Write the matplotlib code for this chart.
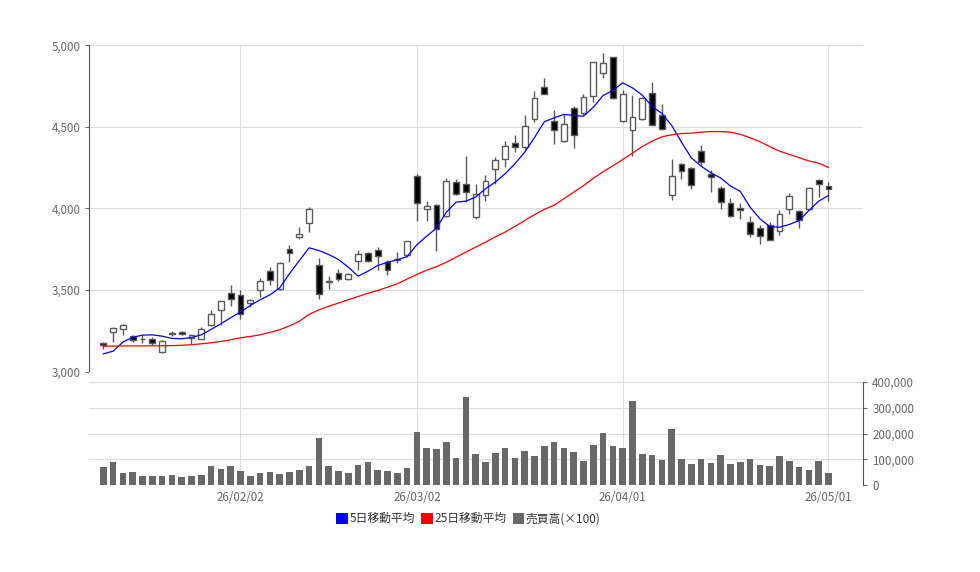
"""
plot.py

Daily candlestick chart with 5-day / 25-day moving averages and a volume
panel underneath. Values read off a reference image.
"""

import matplotlib
matplotlib.use("Agg")
import matplotlib.pyplot as plt
import matplotlib.ticker as mticker
from matplotlib.patches import Patch
import numpy as np
import pandas as pd


# ============================================================
# 1) DATA
# ============================================================

START_DATE = "2026-01-13"
END_DATE   = "2026-05-01"
HOLIDAYS   = ["2026-02-11", "2026-02-23", "2026-03-20", "2026-04-29"]

TICK_DATES  = ["2026-02-02", "2026-03-02", "2026-04-01", "2026-05-01"]
TICK_LABELS = ["26/02/02", "26/03/02", "26/04/01", "26/05/01"]

opens = [
    3175, 3241, 3262, 3217, 3198, 3201, 3117, 3235, 3240, 3207,
    3201, 3287, 3380, 3480, 3470, 3423, 3501, 3615, 3507, 3753,
    3828, 3912, 3655, 3550, 3604, 3566, 3677, 3728, 3747, 3670,
    3683, 3712, 4202, 3998, 4020, 3957, 4162, 4151, 3947, 4084,
    4244, 4305, 4401, 4376, 4550, 4744, 4534, 4417, 4615, 4585,
    4693, 4833, 4928, 4534, 4483, 4550, 4707, 4571, 4080, 4274,
    4250, 4352, 4213, 4127, 4035, 4002, 3920, 3882, 3900, 3859,
    3994, 3983, 3994, 4176, 4135,
]
highs = [
    3180, 3272, 3290, 3227, 3221, 3210, 3194, 3250, 3250, 3228,
    3272, 3379, 3435, 3528, 3497, 3444, 3572, 3640, 3670, 3777,
    3885, 4008, 3698, 3583, 3630, 3602, 3747, 3732, 3763, 3681,
    3732, 3803, 4210, 4049, 4029, 4186, 4182, 4325, 4151, 4207,
    4315, 4417, 4452, 4575, 4720, 4802, 4605, 4577, 4628, 4704,
    4900, 4953, 4930, 4728, 4699, 4685, 4775, 4638, 4305, 4280,
    4255, 4391, 4238, 4141, 4066, 4033, 3957, 3896, 3916, 3992,
    4096, 3990, 4130, 4182, 4161,
]
lows = [
    3140, 3180, 3221, 3180, 3172, 3160, 3115, 3215, 3221, 3170,
    3199, 3280, 3287, 3399, 3323, 3395, 3460, 3529, 3500, 3670,
    3810, 3855, 3446, 3507, 3558, 3563, 3624, 3670, 3620, 3589,
    3665, 3702, 3926, 3922, 3742, 3947, 4080, 4039, 3937, 4043,
    4151, 4253, 4345, 4356, 4530, 4700, 4393, 4410, 4372, 4571,
    4656, 4802, 4672, 4530, 4319, 4545, 4510, 4480, 4055, 4182,
    4121, 4258, 4100, 3998, 3945, 3937, 3828, 3783, 3805, 3840,
    3967, 3882, 3990, 4070, 4049,
]
closes = [
    3165, 3268, 3287, 3196, 3202, 3176, 3188, 3228, 3232, 3225,
    3262, 3354, 3431, 3446, 3350, 3440, 3558, 3563, 3664, 3728,
    3845, 3998, 3477, 3558, 3569, 3599, 3722, 3677, 3707, 3624,
    3692, 3799, 4033, 4016, 3875, 4166, 4090, 4100, 4090, 4168,
    4299, 4382, 4376, 4505, 4679, 4704, 4483, 4520, 4448, 4683,
    4898, 4891, 4679, 4704, 4564, 4679, 4515, 4485, 4198, 4233,
    4147, 4284, 4192, 4039, 3951, 3990, 3845, 3834, 3808, 3967,
    4076, 3931, 4127, 4152, 4121,
]

ma5 = [
    3108, 3125, 3180, 3210, 3223, 3225, 3217, 3203, 3201, 3209,
    3225, 3258, 3293, 3330, 3365, 3405, 3440, 3470, 3513, 3600,
    3680, 3759, 3742, 3718, 3687, 3640, 3585, 3615, 3650, 3670,
    3685, 3705, 3778, 3830, 3880, 3977, 4039, 4045, 4070, 4121,
    4162, 4213, 4274, 4345, 4435, 4532, 4556, 4577, 4571, 4566,
    4621, 4693, 4724, 4771, 4740, 4695, 4626, 4583, 4509, 4407,
    4311, 4260, 4219, 4187, 4138, 4105, 4008, 3937, 3890, 3885,
    3902, 3926, 3988, 4045, 4080,
]
ma25 = [
    3155, 3156, 3157, 3157, 3157, 3158, 3158, 3159, 3161, 3164,
    3170, 3176, 3184, 3195, 3207, 3215, 3225, 3240, 3256, 3280,
    3308, 3350, 3378, 3400, 3420, 3440, 3460, 3480, 3497, 3517,
    3538, 3567, 3595, 3622, 3643, 3670, 3701, 3732, 3763, 3793,
    3826, 3855, 3890, 3926, 3962, 3995, 4020, 4060, 4100, 4140,
    4185, 4225, 4262, 4300, 4340, 4380, 4413, 4440, 4452, 4460,
    4462, 4468, 4472, 4472, 4468, 4455, 4434, 4410, 4380, 4352,
    4332, 4312, 4292, 4278, 4252,
]

# volume in thousands of shares (the chart labels it x100)
volume_k = [
    70, 90, 47, 51, 35, 35, 35, 39, 31, 35,
    39, 74, 62, 74, 55, 35, 47, 51, 43, 51,
    58, 74, 183, 74, 55, 47, 78, 90, 58, 55,
    47, 66, 206, 144, 140, 168, 105, 343, 121, 90,
    125, 144, 105, 132, 113, 152, 168, 144, 129, 94,
    156, 203, 152, 144, 327, 121, 117, 97, 218, 101,
    82, 101, 86, 117, 82, 90, 101, 78, 74, 113,
    94, 70, 58, 94, 47,
]


# ============================================================
# 2) STYLING
# ============================================================

FIG_SIZE = (9.8, 5.72)
DPI      = 100

UP_COLOR    = "white"
DOWN_COLOR  = "black"
EDGE_COLOR  = "#5a5a5a"
MA5_COLOR   = "#0000ff"
MA25_COLOR  = "#ff0000"
VOL_COLOR   = "#686868"
GRID_COLOR  = "#dddddd"
TICK_COLOR  = "#666666"
SPINE_COLOR = "#555555"

BODY_WIDTH = 0.6
VOL_WIDTH  = 0.68

plt.rcParams["font.family"] = ["Noto Sans CJK JP", "DejaVu Sans"]
plt.rcParams["axes.unicode_minus"] = False


# ============================================================
# 3) HELPERS
# ============================================================

def draw_candles(ax, x):
    o = np.array(opens, dtype=float)
    c = np.array(closes, dtype=float)
    up = c >= o
    ax.vlines(x, lows, highs, color=EDGE_COLOR, linewidth=1, zorder=2)
    bottom = np.minimum(o, c)
    height = np.maximum(np.abs(c - o), 4)
    colors = np.where(up, UP_COLOR, DOWN_COLOR)
    ax.bar(x, height, bottom=bottom, width=BODY_WIDTH, color=colors,
           edgecolor=EDGE_COLOR, linewidth=1, zorder=3)


def style_axis(ax):
    for side in ("top", "right", "bottom", "left"):
        ax.spines[side].set_visible(False)
    ax.tick_params(colors=TICK_COLOR, labelsize=8.3, length=3, width=0.8)
    ax.grid(True, color=GRID_COLOR, linewidth=0.8)
    ax.set_axisbelow(True)


# ============================================================
# 4) FIGURE
# ============================================================

def main():
    dates = pd.bdate_range(START_DATE, END_DATE, freq="C", holidays=HOLIDAYS)
    x = np.arange(len(dates))
    tick_pos = [dates.get_loc(pd.Timestamp(d)) for d in TICK_DATES]
    xlim = (-1.41, len(dates) - 1 + 3.55)
    volume = np.array(volume_k) * 1000

    fig = plt.figure(figsize=FIG_SIZE, dpi=DPI)
    ax_p = fig.add_axes([0.0913, 0.3505, 0.7896, 0.5700])
    ax_v = fig.add_axes([0.0913, 0.1521, 0.7896, 0.1984], sharex=ax_p)

    # price panel
    style_axis(ax_p)
    ax_p.spines["left"].set_visible(True)
    ax_p.spines["left"].set_color(SPINE_COLOR)
    draw_candles(ax_p, x)
    ax_p.plot(x, ma5, color=MA5_COLOR, linewidth=0.9, zorder=4)
    ax_p.plot(x, ma25, color=MA25_COLOR, linewidth=0.9, zorder=4)
    ax_p.set_ylim(3000, 5000)
    ax_p.yaxis.set_major_locator(mticker.MultipleLocator(500))
    ax_p.yaxis.set_major_formatter(mticker.StrMethodFormatter("{x:,.0f}"))
    ax_p.set_xlim(*xlim)
    ax_p.set_xticks(tick_pos)
    ax_p.tick_params(axis="x", length=0, labelbottom=False)

    # volume panel
    style_axis(ax_v)
    ax_v.bar(x, volume, width=VOL_WIDTH, color=VOL_COLOR, zorder=2)
    ax_v.set_ylim(0, 441000)
    ax_v.yaxis.tick_right()
    ax_v.set_yticks(np.arange(0, 400001, 100000))
    ax_v.yaxis.set_major_formatter(mticker.StrMethodFormatter("{x:,.0f}"))
    ax_v.spines["right"].set_visible(True)
    ax_v.spines["right"].set_color(SPINE_COLOR)
    ax_v.spines["right"].set_bounds(0, 400000)
    ax_v.set_xticks(tick_pos)
    ax_v.set_xticklabels(TICK_LABELS)
    ax_v.tick_params(axis="x", length=0, pad=4)
    ax_v.set_xlim(*xlim)

    handles = [
        Patch(facecolor=MA5_COLOR, label="5日移動平均"),
        Patch(facecolor=MA25_COLOR, label="25日移動平均"),
        Patch(facecolor=VOL_COLOR, label="売買高(×100)"),
    ]
    fig.legend(handles=handles, loc="center", bbox_to_anchor=(0.478, 0.093),
               ncol=3, frameon=False, fontsize=8.5, handlelength=1.0,
               handleheight=1.0, handletextpad=0.1, columnspacing=0.55,
               labelcolor="#333333")

    fig.savefig("out.png", dpi=DPI)
    plt.close(fig)


if __name__ == "__main__":
    main()
